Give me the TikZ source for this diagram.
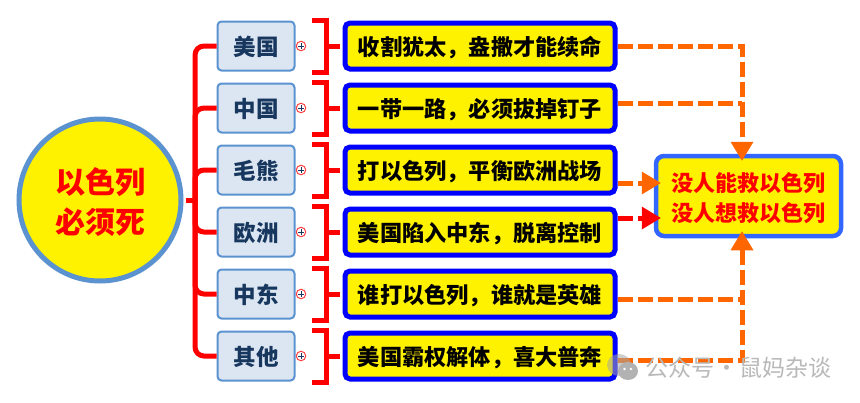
\documentclass[tikz,border=0pt]{standalone}
\usepackage{fontspec}
\usetikzlibrary{arrows.meta,calc}
\newfontfamily\cjk{Noto Sans CJK SC}
\definecolor{org}{HTML}{FF6600}
\definecolor{topicline}{HTML}{5B92D0}
\definecolor{topicfill}{HTML}{DCE6F2}
\definecolor{topictext}{HTML}{17375E}
\definecolor{sumline}{HTML}{3366FF}
\tikzset{
  x=1pt,y=-1pt,
  topicbox/.style={draw=topicline,fill=topicfill,line width=2pt,rounded corners=4pt,minimum width=77pt,minimum height=49pt,inner sep=0pt,text height=20pt,text depth=1pt,font=\cjk\bfseries\fontsize{22.5}{26}\selectfont,text=topictext},
  msgbox/.style={draw=blue,fill=yellow,line width=5pt,rounded corners=5pt,minimum width=270pt,minimum height=46pt,inner sep=0pt,text height=20pt,text depth=1pt,font=\cjk\bfseries\fontsize{22.2}{26}\selectfont,text=black},
  sumbox/.style={draw=sumline,fill=yellow,line width=4.5pt,rounded corners=8pt,minimum width=185pt,minimum height=80pt,inner sep=0pt,align=center,font=\cjk\bfseries\fontsize{22}{30}\selectfont,text=red},
  rootnode/.style={circle,draw=topicline,fill=yellow,line width=5pt,minimum size=162pt,inner sep=0pt,align=center,font=\cjk\bfseries\fontsize{30}{40}\selectfont,text=red},
  plusnode/.style={circle,draw=red!75!white,line width=1pt,fill=white,minimum size=9.5pt,inner sep=0pt},
  tree/.style={draw=red,line width=5pt,rounded corners=9pt},
  brack/.style={draw=red,line width=5pt},
  orgdash/.style={draw=org,line width=5pt,dash pattern=on 15pt off 5pt},
  reddash/.style={draw=red,line width=5pt,dash pattern=on 15pt off 5pt},
}
\begin{document}
\begin{tikzpicture}
\useasboundingbox (0,0) rectangle (860,402);
\fill[white] (0,0) rectangle (860,402);
% root
\node[rootnode] (root) at (100,200) {\rule{0pt}{31pt}以色列\\必须死};
% topics, brackets, messages
\foreach \n/\y/\t/\m in {1/46/美国/收割犹太，盎撒才能续命,2/108/中国/一带一路，必须拔掉钉子,3/170/毛熊/打以色列，平衡欧洲战场,4/232/欧洲/美国陷入中东，脱离控制,5/294/中东/谁打以色列，谁就是英雄,6/356/其他/美国霸权解体，喜大普奔}{
  \node[topicbox] (t\n) at (256,\y) {\t};
  \node[msgbox] (m\n) at (480,\y) {\m};
  \node[plusnode] (p\n) at (301,\y) {};
  \draw[topictext,line width=0.6pt] ([xshift=-3pt]p\n.center) -- ([xshift=3pt]p\n.center) ([yshift=-3pt]p\n.center) -- ([yshift=3pt]p\n.center);
  \coordinate (bt\n) at (312,\y-26);
  \coordinate (bb\n) at (312,\y+26);
  \coordinate (bm\n) at (326,\y);
  \draw[brack] (bt\n) -| (bm\n) |- (bb\n);
  \draw[brack] (bm\n) -- ([xshift=-3pt]m\n.west);
}
% tree
\coordinate (trunk) at (195,200);
\draw[brack] ([xshift=2pt]root.east) -- (trunk);
\draw[tree] (t1.west) -| (trunk) |- (t6.west);
\draw[tree] (t2.west) -| (trunk);
\draw[tree] (t3.west) -| (trunk);
\draw[tree] (t4.west) -| (trunk);
\draw[tree] (t5.west) -| (trunk);
% summary
\node[sumbox] (sum) at (748.5,196) {\rule{0pt}{23pt}没人能救以色列\\没人想救以色列};
% connectors
\coordinate (top) at (742,146);
\coordinate (bot) at (742,246);
\coordinate (a3) at ([yshift=-13pt]m3.east);
\coordinate (a4) at ([yshift=14pt]m4.east);
\coordinate (s3) at (644,183);
\coordinate (s4) at (644,218);
\draw[orgdash] (m1.east) -| (top);
\draw[orgdash] ([yshift=5pt]m2.east) -- ([yshift=5pt]m2.east -| top);
\draw[orgdash] ([yshift=-5pt]m5.east) -- ([yshift=-5pt]m5.east -| bot);
\draw[orgdash] ([yshift=-4pt]m6.east) -| (bot);
\draw[orgdash] (a3) -- (s3);
\draw[reddash] (a4) -- (s4);
\fill[org] (top |- sum.north) ++(0,7) -- ++(-11.5,-19) -- ++(23,0) -- cycle;
\fill[org] (bot |- sum.south) ++(0,-7) -- ++(-11.5,19) -- ++(23,0) -- cycle;
\fill[org] (s3 -| sum.west) ++(7,0) -- ++(-19,-11.5) -- ++(0,23) -- cycle;
\fill[red] (s4 -| sum.west) ++(7,0) -- ++(-19,-11.5) -- ++(0,23) -- cycle;
% watermark
\fill[gray!70,opacity=.55] (619,365) ellipse (12pt and 11pt);
\fill[gray!60] (628,371) ellipse (10pt and 9pt);
\fill[white] (624.5,369) circle (1.3pt) (631,369) circle (1.3pt);
\node[anchor=west,inner sep=0pt,text=gray!55,font=\cjk\fontsize{23}{26}\selectfont] (wm) at (645,368) {公众号\hspace{1pt}·\hspace{1pt}鼠妈杂谈};
\end{tikzpicture}
\end{document}
